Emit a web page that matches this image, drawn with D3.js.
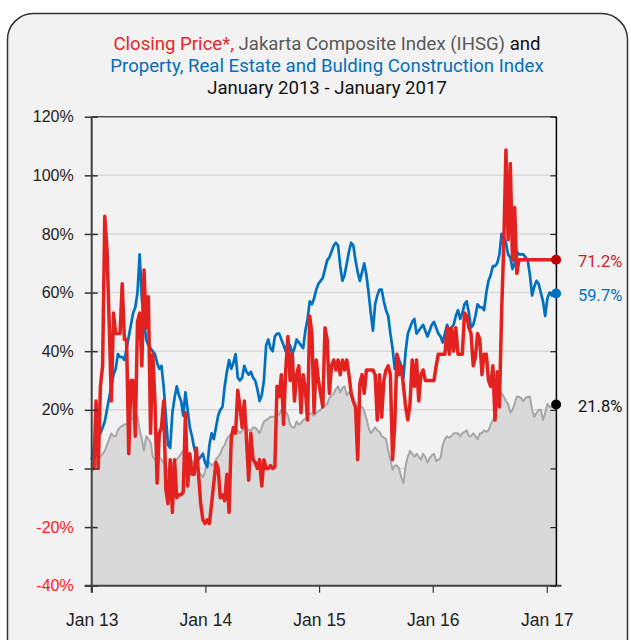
<!DOCTYPE html>
<html><head><meta charset="utf-8">
<script src="https://cdn.jsdelivr.net/npm/d3@7"></script>
<style>
html,body{margin:0;padding:0;background:#fff;}
svg{display:block;font-family:Roboto,"Open Sans",sans-serif;}
</style>
</head><body>
<svg id="chart" width="631" height="640"></svg>
<script>
// ---------- DATA ----------
const titleLine1 = [
  {text: "Closing Price*,", color: "#e3262a"},
  {text: " Jakarta Composite Index (IHSG)", color: "#595959"},
  {text: " and", color: "#111111"}
];
const titleLine2 = "Property, Real Estate and Bulding Construction Index";
const titleLine3 = "January 2013 - January 2017";

const yTickValues = [-40, -20, 0, 20, 40, 60, 80, 100, 120];
const yTickLabels = ["-40%", "-20%", "-", "20%", "40%", "60%", "80%", "100%", "120%"];
const xTickDates = ["2013-01-01", "2014-01-01", "2015-01-01", "2016-01-01", "2017-01-01"];
const xTickLabels = ["Jan 13", "Jan 14", "Jan 15", "Jan 16", "Jan 17"];
const xDomain = ["2013-01-01", "2017-02-01"];
const seriesStart = "2013-01-01";   // weekly observations
const stepDays = 7;

// Jakarta Composite Index (IHSG), % change since Jan 2013
const ihsg = [
  0, -0.5, 1.5, 3, 4, 5, 6, 8, 10, 12,
  11, 11, 13, 14, 14.5, 15, 15, 16, 16.5, 17.5,
  18, 18, 13, 10, 6, 11, 10, 9, 4, 3,
  3, 4, 3, 2, 0.5, -1, -2, 1, 3, 3,
  4, 5, 6, 5, 4, 3, 2.5, 1, 0, -1,
  -2, -3, -1, 2, 2, 1, 1.5, 3, 4, 5,
  7, 8, 10, 11, 12, 12.5, 13, 13, 12, 13,
  14, 14, 13, 13, 14, 14, 13, 12, 14, 16,
  16.5, 17, 17.6, 17.6, 17.6, 18, 18.5, 20, 18, 19.5,
  18, 15, 14, 14, 16, 15, 15.5, 16.5, 17, 17.6,
  19, 18.5, 18, 19, 19.5, 20, 21, 21.5, 22, 24,
  25, 25.6, 27, 28, 26, 27.5, 28, 25, 26, 27,
  22, 21, 20, 21, 21, 19.5, 17, 14, 12, 13,
  14, 13, 12.5, 11, 10.5, 10, 6, 3, -0.5, 1,
  1, 0, -3, -5, 1, 4, 6, 5, 4, 5,
  4, 3, 5, 4, 2, 3.5, 4.5, 5, 2.5, 3,
  3.5, 8, 10, 11, 10.5, 11, 12, 12, 12, 11,
  12, 12.5, 13, 11, 11, 12, 11, 10, 12, 12,
  13, 12.5, 13, 15, 16.5, 18, 21, 24, 25.6, 24.5,
  23, 22, 19, 20, 22, 24.5, 24.5, 24, 23, 24,
  24.5, 24.5, 20, 17.6, 19, 20, 20, 16.5, 19, 22,
  21, 21, 22, 21.8
];

// Property, Real Estate and Building Construction Index, % change
const property = [
  3, 7, 10, 11, 12, 14, 16, 20, 24, 28,
  32, 34, 39, 38, 38, 37, 41, 45, 49, 53,
  55, 60, 73, 58, 50, 44, 42, 41, 40, 39,
  36, 34, 35, 28, 18, 8, 7, 19, 24, 28,
  25, 23, 18, 26, 20, 14, 11, 7, 4, 3,
  4, 5, 2, 0.5, 8, 12, 10, 14, 18, 20,
  21, 28, 33, 37, 34, 36, 39, 31, 30, 31,
  35, 33, 32, 33, 31, 30, 27, 23, 25, 30,
  42, 44, 41, 40, 45, 46, 46, 44, 42, 40,
  43, 42, 39, 41, 44, 43, 42, 41, 47, 51,
  57, 56, 58, 61, 63, 64, 65, 68, 71, 72,
  74, 76, 77, 76, 69, 64, 66, 70, 74, 77,
  76, 71, 67, 64, 67, 70, 66, 60, 53, 47,
  56, 59, 61, 61, 57, 54, 52, 46, 41, 34,
  39, 37, 35, 31, 40, 46, 48, 50, 51, 46,
  47, 48, 49, 47, 45, 47, 49, 50, 48, 46,
  45, 43, 46, 49, 47, 48, 49, 52, 54, 51,
  53, 56, 57, 53, 48, 49, 52, 56, 55, 55,
  54, 60, 64, 66, 69, 69, 70, 73, 80, 79,
  77, 73, 72, 68, 70, 74, 73, 73, 73, 72,
  71, 66, 59, 62, 64, 63, 60, 57, 52, 58,
  60, 59, 60, 59.7
];

// Closing price, % change
const closing = [
  0, 0, 23, 0, 28, 35, 86, 75, 50, 23,
  53, 46, 46, 46, 63, 44, 44, 5, 30, 30,
  11, 50, 53, 35, 67.7, 48, 58.6, 12, 39, 23,
  -5, 12, 14, 23, -7, -12, 3, -15, 3, -10,
  -9, -9, -8, 19, -6, 5, -2, -2, 7, -2,
  -12, -17.5, -18.8, -17.5, -18.8, -12, -5, 2, 0, -10,
  -9, -11, -2, -15, 10, 14, 12, 26.7, 21, 14,
  23, 10, -4, 12, 3, 2, 0, 3, -6, 3,
  0, 0, 1, 0, 0.5, 28, 24.5, 32, 15, 33.6,
  45, 30, 39, 23, 32, 35, 19, 32, 27, 16.5,
  52, 46, 19, 37, 30, 25.6, 21, 48, 44, 25.6,
  35, 37, 33.6, 37, 32, 37, 33.6, 37, 32, 25.6,
  23, 21, 3, 29, 32, 25.6, 33.6, 33.6, 33.6, 33.6,
  32, 16.5, 32, 17.5, 30, 33.6, 35, 32, 3, 15,
  39, 32, 35, 28, 21, 16.5, 22, 37, 28, 37,
  23, 32, 33.6, 30, 30, 30, 30, 30, 35, 39,
  39, 39, 39, 48, 39, 48, 40, 48, 39, 39,
  39, 53, 52, 48, 46, 35, 38, 46, 44, 32,
  39, 39, 30, 28, 35, 16.5, 33, 21, 53, 76,
  108.6, 78, 104, 71, 89, 66.5, 71.2, 71.2, 71.2, 71.2,
  71.2, 71.2, 71.2, 71.2, 71.2, 71.2, 71.2, 71.2, 71.2, 71.2,
  71.2, 71.2, 71.2, 71.2
];

const seriesColors = {closing: "#e3211f", property: "#0070c0", ihsg: "#a6a6a6"};
const dotColors = {closing: "#c00000", property: "#0070c0", ihsg: "#000000"};
const labelColors = {closing: "#c81e1e", property: "#0070c0", ihsg: "#111111"};

// ---------- DRAW ----------
const parse = d3.timeParse("%Y-%m-%d");
const svg = d3.select("#chart");
const plot = {left: 91.7, right: 556.4, top: 116.7, bottom: 585.7};

svg.append("rect")
  .attr("x", 7.5).attr("y", 13.5).attr("width", 620).attr("height", 660)
  .attr("rx", 26).attr("ry", 26)
  .attr("fill", "#f2f2f2").attr("stroke", "#333").attr("stroke-width", 1.5);

const x = d3.scaleTime().domain(xDomain.map(parse)).range([plot.left, plot.right]);
const y = d3.scaleLinear().domain([-40, 120]).range([plot.bottom, plot.top]);

const t0 = parse(seriesStart);
const toPoints = arr => arr.map((v, i) => ({date: d3.timeDay.offset(t0, i * stepDays), value: v}));
const ihsgPts = toPoints(ihsg), propPts = toPoints(property), closePts = toPoints(closing);

// gridlines
svg.append("g").selectAll("line")
  .data(yTickValues.filter(v => v > -40 && v < 120))
  .join("line")
  .attr("x1", plot.left).attr("x2", plot.right)
  .attr("y1", d => y(d)).attr("y2", d => y(d))
  .attr("stroke", "#d9d9d9").attr("stroke-width", 1.5);

// IHSG area + line
svg.append("path").datum(ihsgPts)
  .attr("fill", "#d9d9d9")
  .attr("d", d3.area().x(d => x(d.date)).y0(y(-40)).y1(d => y(d.value)));
const line = d3.line().x(d => x(d.date)).y(d => y(d.value));
svg.append("path").datum(ihsgPts)
  .attr("fill", "none").attr("stroke", seriesColors.ihsg).attr("stroke-width", 2)
  .attr("stroke-linejoin", "round").attr("d", line);
svg.append("path").datum(propPts)
  .attr("fill", "none").attr("stroke", seriesColors.property).attr("stroke-width", 2.7)
  .attr("stroke-linejoin", "round").attr("d", line);
svg.append("path").datum(closePts)
  .attr("fill", "none").attr("stroke", seriesColors.closing).attr("stroke-width", 3.5)
  .attr("stroke-linejoin", "round").attr("d", line);

// top border
svg.append("line").attr("x1", plot.left).attr("x2", plot.right)
  .attr("y1", plot.top).attr("y2", plot.top)
  .attr("stroke", "#505050").attr("stroke-width", 1.5);

// left axis
const yAxis = svg.append("g").attr("transform", `translate(${plot.left},0)`)
  .call(d3.axisLeft(y).tickValues(yTickValues)
    .tickFormat(d => yTickLabels[yTickValues.indexOf(d)])
    .tickSize(7).tickSizeOuter(0).tickPadding(11));
yAxis.select(".domain").remove();
yAxis.selectAll(".tick line").attr("x1", 6).attr("stroke", "#333").attr("stroke-width", 1.5);
yAxis.selectAll(".tick text")
  .attr("font-size", 16).attr("font-family", null)
  .attr("fill", d => d < 0 ? "#ff2020" : "#222");
svg.append("line").attr("x1", plot.left).attr("x2", plot.left)
  .attr("y1", plot.top).attr("y2", plot.bottom + 7)
  .attr("stroke", "#404040").attr("stroke-width", 2);

// bottom axis
const xAxis = svg.append("g").attr("transform", `translate(0,${plot.bottom})`)
  .call(d3.axisBottom(x).tickValues(xTickDates.map(parse))
    .tickFormat((d, i) => xTickLabels[i]).tickSize(7).tickSizeOuter(0));
xAxis.select(".domain").remove();
xAxis.selectAll(".tick line").attr("stroke", "#333").attr("stroke-width", 1.2);
xAxis.selectAll(".tick text").attr("font-size", 17.5).attr("font-family", null)
  .attr("fill", "#222").attr("dy", null).attr("y", 40);
svg.append("line").attr("x1", plot.left - 7).attr("x2", plot.right + 5)
  .attr("y1", plot.bottom).attr("y2", plot.bottom)
  .attr("stroke", "#404040").attr("stroke-width", 2);

// right axis
const rAxis = svg.append("g").attr("transform", `translate(${plot.right},0)`)
  .call(d3.axisLeft(y).tickValues(yTickValues).tickFormat("").tickSize(6).tickSizeOuter(0));
rAxis.select(".domain").remove();
rAxis.selectAll(".tick line").attr("stroke", "#222").attr("stroke-width", 1.2);
svg.append("line").attr("x1", plot.right).attr("x2", plot.right)
  .attr("y1", plot.top).attr("y2", plot.bottom)
  .attr("stroke", "#000").attr("stroke-width", 1.5);

// end dots + labels
const ends = [
  {key: "closing", pt: closePts[closePts.length - 1]},
  {key: "property", pt: propPts[propPts.length - 1]},
  {key: "ihsg", pt: ihsgPts[ihsgPts.length - 1]}
];
const fmt = d3.format(".1f");
ends.forEach(e => {
  svg.append("circle").attr("cx", x(e.pt.date)).attr("cy", y(e.pt.value)).attr("r", 5)
    .attr("fill", dotColors[e.key]);
  svg.append("text").attr("x", 578).attr("y", y(e.pt.value) + 2)
    .attr("dominant-baseline", "central")
    .attr("font-size", 16.5).attr("fill", labelColors[e.key])
    .text(fmt(e.pt.value) + "%");
});

// title (font size fitted to the reference width, capped so lines do not overlap)
const tcx = 327;
const t1 = svg.append("text").attr("x", tcx).attr("y", 50).attr("text-anchor", "middle").attr("font-size", 17);
titleLine1.forEach(p => t1.append("tspan").attr("fill", p.color).text(p.text));
const t2 = svg.append("text").attr("x", tcx).attr("y", 72).attr("text-anchor", "middle").attr("font-size", 17)
  .attr("fill", "#0070c0").text(titleLine2);
const t3 = svg.append("text").attr("x", tcx).attr("y", 94).attr("text-anchor", "middle").attr("font-size", 17)
  .attr("fill", "#111").text(titleLine3);
const len1 = t1.node().getComputedTextLength();
const fs = Math.max(15, Math.min(18.6, 17 * 448 / (len1 || 448)));
[t1, t2, t3].forEach(t => t.attr("font-size", fs));
</script>
</body></html>
